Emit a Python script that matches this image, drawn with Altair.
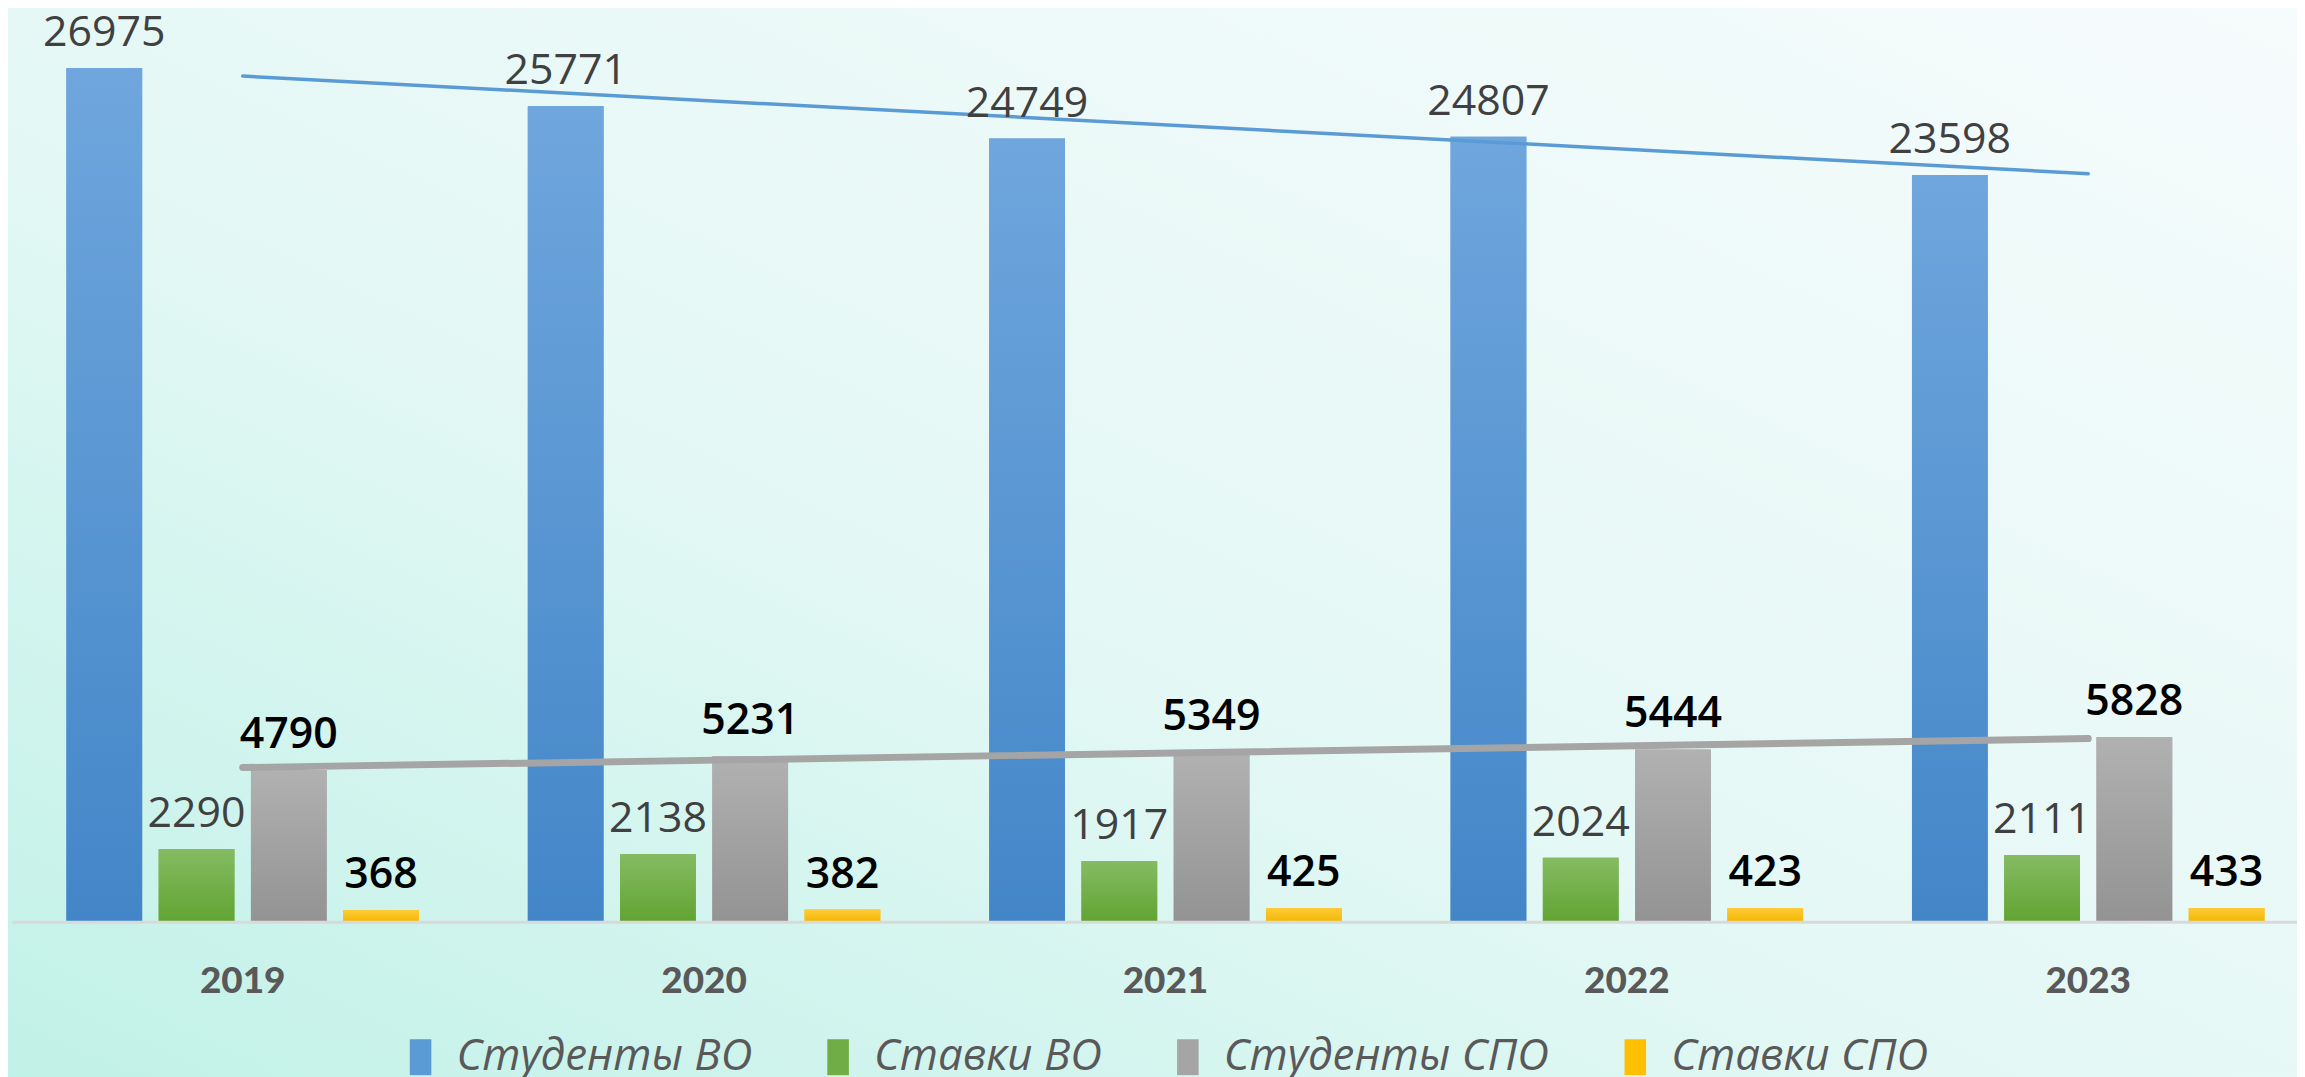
import altair as alt
import pandas as pd

years = [2019, 2020, 2021, 2022, 2023]
series = ["Студенты ВО", "Ставки ВО", "Студенты СПО", "Ставки СПО"]
students_vo = [26975, 25771, 24749, 24807, 23598]
rates_vo = [2290, 2138, 1917, 2024, 2111]
students_spo = [4790, 5231, 5349, 5444, 5828]
rates_spo = [368, 382, 425, 423, 433]

solid = ["#5b9bd5", "#70ad47", "#a5a5a5", "#ffc000"]
grad_stops = [("#6fa6dd", "#4386c8"), ("#85bb63", "#62a432"),
              ("#b1b1b1", "#939393"), ("#ffca3a", "#f2b800")]

rows = []
for s, vals in zip(series, [students_vo, rates_vo, students_spo, rates_spo]):
    for y, v in zip(years, vals):
        rows.append({"year": y, "series": s, "value": v})
df = pd.DataFrame(rows)

W = 2293
H = 905
YMAX = 28500

x_enc = alt.X("year:O", scale=alt.Scale(range=[0, 2315], paddingInner=0, paddingOuter=0),
              axis=alt.Axis(title=None, labelAngle=0, ticks=False, labelPadding=42, zindex=1,
                            labelFont="Lato", labelFontSize=37, labelFontWeight=900,
                            labelColor="#595959", domainColor="#d9d9d9", domainWidth=3))
xo_enc = alt.XOffset("series:N", scale=alt.Scale(domain=series, paddingInner=0.179, paddingOuter=0.59))
y_enc = alt.Y("value:Q", scale=alt.Scale(domain=[0, YMAX], nice=False, zero=True), axis=None)


def grad(top, bottom):
    return alt.LinearGradient(gradient="linear", x1=0, x2=0, y1=0, y2=1,
                              stops=[alt.GradientStop(color=top, offset=0),
                                     alt.GradientStop(color=bottom, offset=1)])


bg = alt.Chart(alt.Data(values=[{"a": 1}])).mark_rect(
    fill=alt.LinearGradient(gradient="linear", x1=0, y1=1, x2=1, y2=0,
                            stops=[alt.GradientStop(color="#c0f1e7", offset=0),
                                   alt.GradientStop(color="#e4f8f5", offset=0.45),
                                   alt.GradientStop(color="#f6fbfc", offset=1)])
).encode(x=alt.value(-12), x2=alt.value(W + 8), y=alt.value(-20), y2=alt.value(H + 170))

legend_bars = alt.Chart(df).mark_bar().encode(
    x=x_enc, xOffset=xo_enc, y=y_enc,
    color=alt.Color("series:N", scale=alt.Scale(domain=series, range=solid),
                    legend=alt.Legend(title=None, orient="none", direction="horizontal",
                                      legendX=388, legendY=1019,
                                      symbolType="M-0.6,-1H0.6V1H-0.6Z", symbolSize=1300,
                                      symbolStrokeWidth=0, symbolOpacity=1,
                                      labelFont="Open Sans", labelFontSize=44,
                                      labelFontStyle="italic", labelColor="#595959",
                                      labelOffset=14, columnPadding=64, labelLimit=600))
)

grad_layers = []
for s, (t, b) in zip(series, grad_stops):
    grad_layers.append(
        alt.Chart(df).transform_filter(alt.datum.series == s).mark_bar(color=grad(t, b)).encode(
            x=x_enc, xOffset=xo_enc, y=y_enc)
    )

trend_blue = alt.Chart(df).transform_filter(alt.datum.series == series[0]).transform_regression(
    "year", "value").mark_line(color="#5b9bd5", strokeWidth=3.5, strokeCap="round").encode(
    x=x_enc, y=y_enc)

trend_gray = alt.Chart(df).transform_filter(alt.datum.series == series[2]).transform_regression(
    "year", "value").mark_line(color="#a5a5a5", strokeWidth=7, strokeCap="round").encode(
    x=x_enc, y=y_enc)

labels_vo = alt.Chart(df).transform_filter(
    (alt.datum.series == series[0]) | (alt.datum.series == series[1])
).mark_text(font="Open Sans", fontSize=43, fontWeight=500, color="#404040", dy=-22,
            baseline="alphabetic").encode(
    x=x_enc, xOffset=xo_enc, y=y_enc, text="value:Q")

labels_spo = alt.Chart(df).transform_filter(
    (alt.datum.series == series[2]) | (alt.datum.series == series[3])
).mark_text(font="Open Sans", fontSize=43, fontWeight=600, color="#000000", dy=-22,
            baseline="alphabetic").encode(
    x=x_enc, xOffset=xo_enc, y=y_enc, text="value:Q")

chart = alt.layer(bg, legend_bars, *grad_layers, trend_blue, trend_gray, labels_vo, labels_spo).properties(
    width=W, height=H,
    autosize=alt.AutoSizeParams(type="none"),
    padding={"left": 4, "top": 10, "right": 0, "bottom": 158},
    background="#e8f8f6",
).configure_view(stroke=None).configure_axis(grid=False)

chart.save("out.html", embed_options={"renderer": "svg", "actions": False})
